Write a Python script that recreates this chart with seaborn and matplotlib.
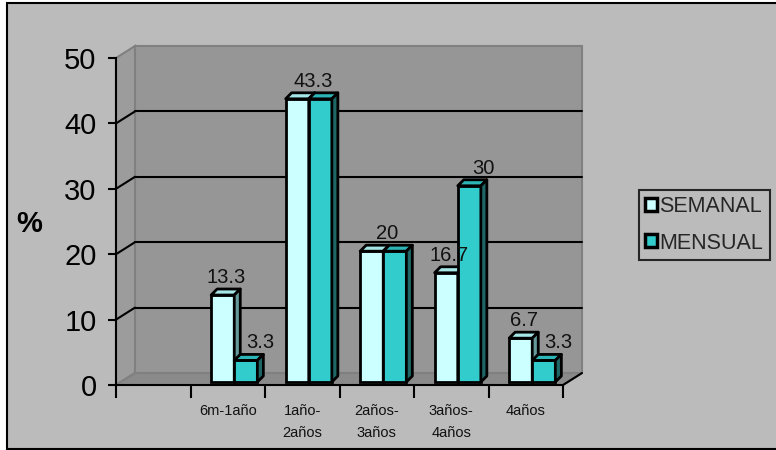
import numpy as np
import pandas as pd
import matplotlib
matplotlib.use("Agg")
import matplotlib.pyplot as plt
import seaborn as sns
from matplotlib.patches import Polygon, Rectangle, Patch
from matplotlib.lines import Line2D

# ---- data -------------------------------------------------------------
categories = ["6m-1año", "1año-\n2años", "2años-\n3años", "3años-\n4años", "4años"]
semanal = [13.3, 43.3, 20, 16.7, 6.7]
mensual = [3.3, 43.3, 20, 30, 3.3]
series_names = ["SEMANAL", "MENSUAL"]
y_ticks = [0, 10, 20, 30, 40, 50]

# ---- style ------------------------------------------------------------
sns.set_theme(style="white")
plt.rcParams["font.family"] = ["Liberation Sans", "DejaVu Sans"]

W, H = 776, 450
BG = "#BBBBBB"
WALL = "#969696"
SIDE_WALL = "#9C9C9C"
FLOOR = "#8A8A8A"
EDGE = "#808080"
face_colors = {"SEMANAL": "#CCFFFF", "MENSUAL": "#33CCCC"}
top_colors = {"SEMANAL": "#A6E6E6", "MENSUAL": "#2DB5B5"}
side_colors = {"SEMANAL": "#669999", "MENSUAL": "#1F6666"}

fig = plt.figure(figsize=(W / 100, H / 100), dpi=100)
fig.patch.set_facecolor("white")

# outer chart area
fig.patches.append(Rectangle((7 / W, 1 / H), 1.0, 446 / H, transform=fig.transFigure,
                             facecolor=BG, edgecolor="black", linewidth=1.5, zorder=-5))

# front plane of the plot area (pixel geometry)
left_px, right_px, bottom_px, top_px = 116, 563, 385, 58
ax = fig.add_axes([left_px / W, (H - bottom_px) / H,
                   (right_px - left_px) / W, (bottom_px - top_px) / H])
ax.set_facecolor("none")

df = pd.DataFrame({
    "cat": categories * 2,
    "serie": [series_names[0]] * len(categories) + [series_names[1]] * len(categories),
    "val": semanal + mensual,
})
sns.barplot(data=df, x="cat", y="val", hue="serie", order=categories,
            hue_order=series_names, palette=face_colors, width=0.62,
            edgecolor="black", linewidth=2, saturation=1, legend=False, ax=ax)
n = len(categories)
bar_list = list(ax.patches)
sem_bars = sorted(bar_list[:n], key=lambda p: p.get_x())
men_bars = sorted(bar_list[n:2 * n], key=lambda p: p.get_x())

ax.set_xlim(-1.5, n - 0.5)
ax.set_ylim(0, 50)
fig.canvas.draw()

# pixel -> data scales
ux = ax.transData.transform((1, 0))[0] - ax.transData.transform((0, 0))[0]
uy = ax.transData.transform((0, 1))[1] - ax.transData.transform((0, 0))[1]

# wall depth (px) and bar depth (px)
wd_x, wd_y = 19 / ux, 12 / uy
bd_x, bd_y = 6 / ux, 6 / uy
shift_x, shift_y = 6.5 / ux, 3 / uy

x0, x1 = ax.get_xlim()
y0, y1 = ax.get_ylim()

# walls and floor
ax.add_patch(Polygon([(x0 + wd_x, y0 + wd_y), (x1 + wd_x, y0 + wd_y),
                      (x1 + wd_x, y1 + wd_y), (x0 + wd_x, y1 + wd_y)],
                     closed=True, facecolor=WALL, edgecolor=EDGE, lw=1.5,
                     zorder=0.2, clip_on=False))
ax.add_patch(Polygon([(x0, y0), (x0, y1), (x0 + wd_x, y1 + wd_y), (x0 + wd_x, y0 + wd_y)],
                     closed=True, facecolor=SIDE_WALL, edgecolor=EDGE, lw=1.5,
                     zorder=0.3, clip_on=False))
ax.add_patch(Polygon([(x0, y0), (x1, y0), (x1 + wd_x, y0 + wd_y), (x0 + wd_x, y0 + wd_y)],
                     closed=True, facecolor=FLOOR, edgecolor=EDGE, lw=1.5,
                     zorder=0.3, clip_on=False))
ax.add_line(Line2D([x1, x1 + wd_x], [y0, y0 + wd_y], color="black", lw=1.5,
                   zorder=0.4, clip_on=False))

# gridlines on the back wall, continued across the side wall
for v in y_ticks[1:-1]:
    ax.add_line(Line2D([x0 + wd_x, x1 + wd_x], [v + wd_y, v + wd_y], color="black",
                       lw=1.5, zorder=0.5, clip_on=False))
    ax.add_line(Line2D([x0, x0 + wd_x], [v, v + wd_y], color="black",
                       lw=1.5, zorder=0.5, clip_on=False))

# 3D bars: front face from seaborn, plus top and side faces
z = 2.0
for i in range(n):
    for name, p in zip(series_names, [sem_bars[i], men_bars[i]]):
        p.set_x(p.get_x() + shift_x)
        p.set_y(p.get_y() + shift_y)
        p.set_zorder(z)
        bx, bw, bh = p.get_x(), p.get_width(), p.get_height()
        by = p.get_y()
        top = by + bh
        ax.add_patch(Polygon([(bx, top), (bx + bw, top), (bx + bw + bd_x, top + bd_y),
                              (bx + bd_x, top + bd_y)], closed=True,
                             facecolor=top_colors[name], edgecolor="black", lw=2,
                             zorder=z + 0.01, joinstyle="round"))
        ax.add_patch(Polygon([(bx + bw, by), (bx + bw, top), (bx + bw + bd_x, top + bd_y),
                              (bx + bw + bd_x, by + bd_y)], closed=True,
                             facecolor=side_colors[name], edgecolor="black", lw=2,
                             zorder=z + 0.01, joinstyle="round"))
        z += 0.1

# value labels above the bars
lab_dy = 15 / uy
lab_kw = dict(ha="center", va="baseline", fontsize=14.5, color="#111111", zorder=10)
for i in range(n):
    a, b = semanal[i], mensual[i]
    pa, pb = sem_bars[i], men_bars[i]
    if a == b:
        cx = (pa.get_x() + pb.get_x() + pb.get_width()) / 2 + 4 / ux
        ax.text(cx, a + lab_dy, f"{a:g}", **lab_kw)
    else:
        ax.text(pa.get_x() + pa.get_width() / 2 + 3 / ux, a + lab_dy, f"{a:g}", **lab_kw)
        ax.text(pb.get_x() + pb.get_width() / 2 + 14 / ux, b + lab_dy, f"{b:g}", **lab_kw)

# front axes
for side in ["top", "right"]:
    ax.spines[side].set_visible(False)
for side in ["left", "bottom"]:
    ax.spines[side].set_color("black")
    ax.spines[side].set_linewidth(1.5)
    ax.spines[side].set_zorder(1)

ax.set_yticks(y_ticks)
ax.set_yticklabels([str(v) for v in y_ticks], fontsize=21, color="black")
ax.tick_params(axis="y", direction="out", length=6, width=1.5, pad=8, color="black", left=True)

ax.set_xticks(range(n))
ax.set_xticklabels(categories, fontsize=10.5, color="#111111", linespacing=1.7)
ax.set_xticks(np.arange(-1.5, n, 1.0), minor=True)
ax.tick_params(axis="x", which="major", length=0, pad=14, bottom=False)
ax.tick_params(axis="x", which="minor", direction="out", length=9, width=1.5,
               color="black", bottom=True)
ax.set_xlabel("")
ax.set_ylabel("")

fig.text(29 / W, 1 - 224 / H, "%", fontsize=21, fontweight="bold", ha="center",
         va="center", color="black")

handles = [Patch(facecolor=face_colors[nm], edgecolor="black", linewidth=2.5)
           for nm in series_names]
leg = fig.legend(handles, series_names, loc="upper left",
                 bbox_to_anchor=(639 / W, 1 - 190 / H), fontsize=15.5,
                 frameon=True, fancybox=False, facecolor=BG, edgecolor="black",
                 handlelength=0.55, handleheight=0.55, handletextpad=0.1,
                 borderpad=0.3, labelspacing=0.7, borderaxespad=0)
leg.get_frame().set_linewidth(1.5)

fig.savefig("out.png", dpi=100, facecolor=fig.get_facecolor())
